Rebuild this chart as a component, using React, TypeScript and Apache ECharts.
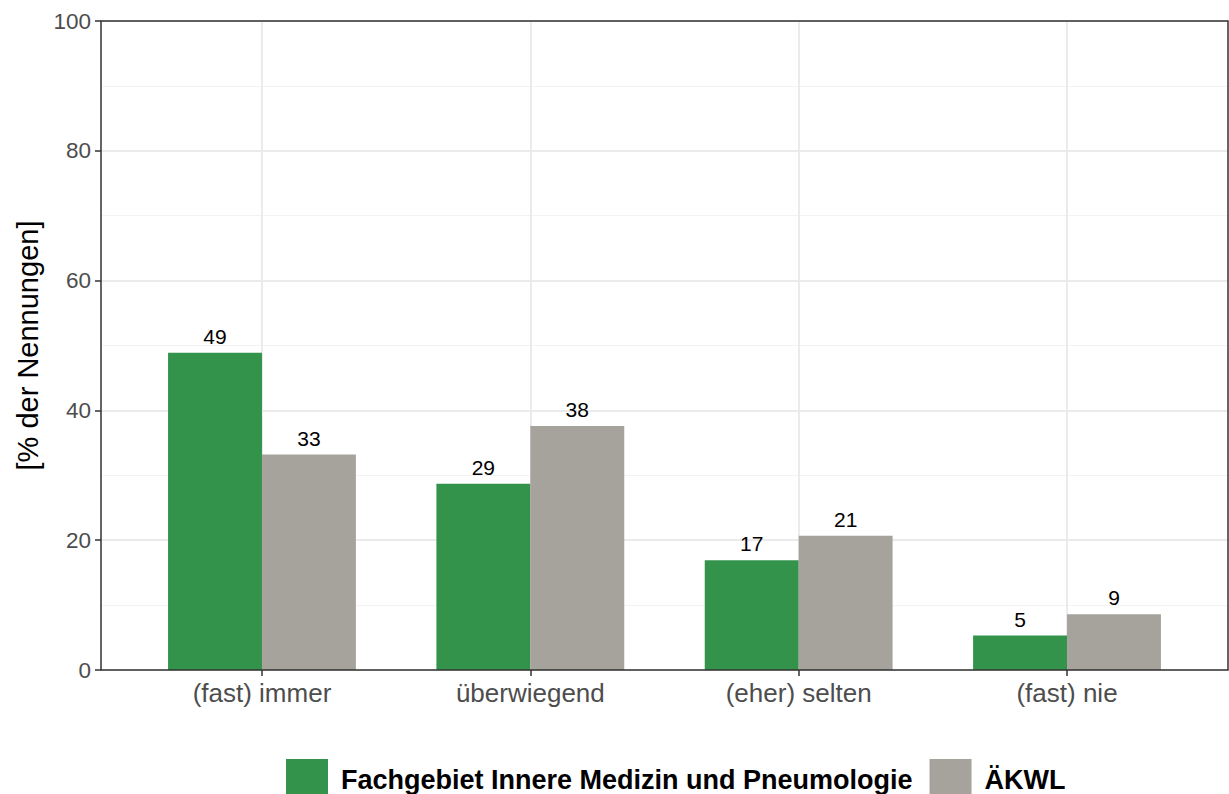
import React, { useEffect, useRef } from "react";
import * as echarts from "echarts";

const categories = ["(fast) immer", "überwiegend", "(eher) selten", "(fast) nie"];
const seriesNames = ["Fachgebiet Innere Medizin und Pneumologie", "ÄKWL"];
const fachgebietValues = [48.9, 28.7, 16.9, 5.3];
const aekwlValues = [33.2, 37.6, 20.7, 8.6];
const yTicks = { min: 0, max: 100, interval: 20 };
const yTitle = "[% der Nennungen]";

const FONT = "'Liberation Sans', Arial, sans-serif";
const GREEN = "#33934A";
const GREY = "#A6A39C";

export default function App() {
  const ref = useRef<HTMLDivElement>(null);
  useEffect(() => {
    document.body.style.margin = "0";
    const chart = echarts.init(ref.current!, undefined, { renderer: "svg" });
    const labelCfg = {
      show: true,
      position: "top" as const,
      distance: 6,
      fontSize: 21,
      fontFamily: FONT,
      color: "#000",
      formatter: (p: any) => String(Math.round(p.value)),
    };
    chart.setOption({
      animation: false,
      backgroundColor: "#fff",
      textStyle: { fontFamily: FONT },
      grid: [
        { left: 101, right: 1, top: 21, bottom: 124, containLabel: false, outerBoundsMode: "none", show: true, borderColor: "#333", borderWidth: 1.5, backgroundColor: "transparent", z: 10 } as any,
        { left: 127.8, right: 27.8, top: 21, bottom: 124, containLabel: false, outerBoundsMode: "none" } as any,
      ],
      xAxis: [
        { gridIndex: 0, type: "category", data: categories, show: false },
        {
          gridIndex: 1,
          type: "category",
          data: categories,
          boundaryGap: true,
          axisLine: { show: false },
          axisTick: { show: true, alignWithLabel: true, length: 6, lineStyle: { color: "#333", width: 1.5 } },
          axisLabel: { fontSize: 26, color: "#4d4d4d", margin: 10, fontFamily: FONT },
          splitLine: { show: true, alignWithLabel: true, lineStyle: { color: "#EBEBEB", width: 2 } } as any,
        },
      ],
      yAxis: [
        {
          gridIndex: 0,
          type: "value",
          min: yTicks.min,
          max: yTicks.max,
          interval: yTicks.interval,
          name: yTitle,
          nameLocation: "middle",
          nameGap: 58,
          nameTextStyle: { fontSize: 29, color: "#000", fontFamily: FONT },
          axisLine: { show: false },
          axisTick: { show: true, length: 6, lineStyle: { color: "#333", width: 1.5 } },
          axisLabel: { fontSize: 22.5, color: "#4d4d4d", margin: 10, fontFamily: FONT },
          splitLine: { show: true, lineStyle: { color: "#EBEBEB", width: 2 } },
          minorTick: { show: false, splitNumber: 2 },
          minorSplitLine: { show: true, lineStyle: { color: "#F3F3F3", width: 1 } },
        },
        { gridIndex: 1, type: "value", min: yTicks.min, max: yTicks.max, show: false, splitLine: { show: false } },
      ],
      legend: {
        left: 281,
        top: 754,
        itemWidth: 42,
        itemHeight: 42,
        itemGap: 17,
        icon: "rect",
        textStyle: { fontSize: 27, fontWeight: "bold", color: "#000", fontFamily: FONT, padding: [0, 0, 0, 8] },
        data: seriesNames,
      },
      series: [
        {
          name: seriesNames[0],
          type: "bar",
          xAxisIndex: 1,
          yAxisIndex: 1,
          data: fachgebietValues,
          barGap: "0%",
          barCategoryGap: "30%",
          itemStyle: { color: GREEN },
          label: labelCfg,
        },
        {
          name: seriesNames[1],
          type: "bar",
          xAxisIndex: 1,
          yAxisIndex: 1,
          data: aekwlValues,
          barGap: "0%",
          barCategoryGap: "30%",
          itemStyle: { color: GREY },
          label: labelCfg,
        },
      ],
    });
    return () => chart.dispose();
  }, []);
  return <div ref={ref} style={{ width: 1229, height: 794 }} />;
}
